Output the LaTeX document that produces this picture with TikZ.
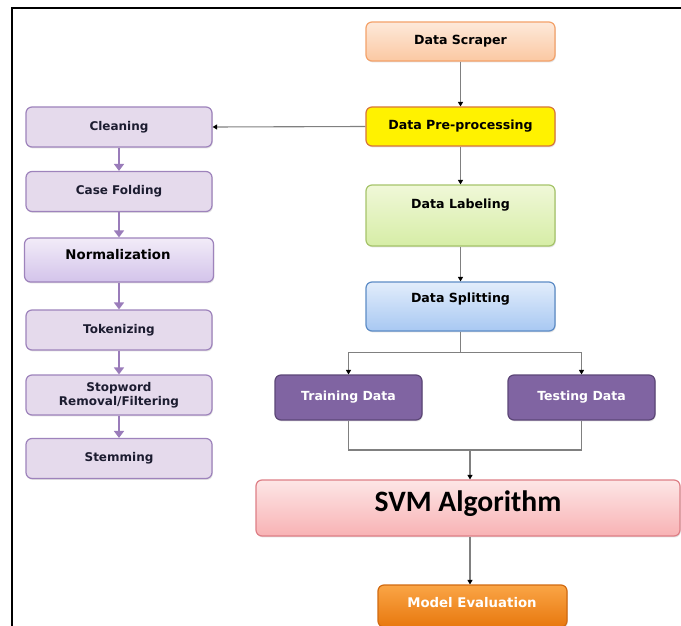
\documentclass[tikz,border=0pt]{standalone}
\usepackage{fontspec}
\setmainfont{DejaVu Sans}
\newfontfamily\calibfont{Carlito}
\usetikzlibrary{arrows.meta,shadows}

\definecolor{lfill}{HTML}{E5DAEC}
\definecolor{lborder}{HTML}{9E83BC}
\definecolor{ltext}{HTML}{1C1C30}
\definecolor{parrow}{HTML}{9A7CBA}
\definecolor{flowgrey}{HTML}{808080}
\definecolor{scrapTop}{HTML}{FDE9DA}
\definecolor{scrapBot}{HTML}{FBC8A2}
\definecolor{scrapLine}{HTML}{F4A26A}
\definecolor{preLine}{HTML}{D8763A}
\definecolor{labTop}{HTML}{F0F8D8}
\definecolor{labBot}{HTML}{D6EDA6}
\definecolor{labLine}{HTML}{A6C46A}
\definecolor{splTop}{HTML}{E2EDFB}
\definecolor{splBot}{HTML}{A8C8F2}
\definecolor{splLine}{HTML}{5D8CC6}
\definecolor{dataFill}{HTML}{8064A2}
\definecolor{dataLine}{HTML}{5C4677}
\definecolor{svmTop}{HTML}{FDE6E6}
\definecolor{svmBot}{HTML}{F8B2B4}
\definecolor{svmLine}{HTML}{DE7F86}
\definecolor{evalTop}{HTML}{FAA546}
\definecolor{evalBot}{HTML}{E8780E}
\definecolor{evalLine}{HTML}{D26A10}
\definecolor{normTop}{HTML}{F2ECF8}
\definecolor{normBot}{HTML}{D3C3EA}

\begin{document}
\begin{tikzpicture}[x=1pt,y=-1pt,
  box/.style={rounded corners=6pt, inner sep=0pt, line width=1.2pt,
    drop shadow={shadow xshift=0.8pt,shadow yshift=-1.4pt,opacity=0.22}},
  leftbox/.style={box, draw=lborder, fill=lfill, minimum width=186pt,
    minimum height=40pt, align=center, text=ltext,
    font=\bfseries\fontsize{12}{13.5}\selectfont},
  rightbox/.style={box, minimum width=189pt, align=center,
    font=\bfseries\fontsize{12.6}{15}\selectfont},
  datbox/.style={box, draw=dataLine, fill=dataFill, text=white,
    minimum width=147pt, minimum height=45pt,
    font=\bfseries\fontsize{12.5}{15}\selectfont},
  boxtext/.style={inner sep=0pt, font=\bfseries\fontsize{12.6}{15}\selectfont},
  flow/.style={draw=flowgrey, line width=1.1pt,
    -{Triangle[length=4.5pt,width=5pt,color=black]}},
  plainflow/.style={draw=flowgrey, line width=1.1pt},
  purp/.style={draw=parrow, line width=2.6pt, -{Triangle[length=7pt,width=10pt]}}
]
\useasboundingbox (0,0) rectangle (681,626);
\clip (0,0) rectangle (681,626);
\fill[white] (0,0) rectangle (681,626);

% outer frame (left and top edges)
\draw[line width=2.2pt, black] (12,700) -- (12,8) -- (700,8);

% ---- preprocessing steps (left column) ----
\node[leftbox] (clean) at (119,127) {Cleaning};
\node[leftbox] (fold) at (119,191.5) {Case Folding};
\node[box, draw=lborder, top color=normTop, bottom color=normBot,
  minimum width=189pt, minimum height=44pt] (norm) at (119,260) {};
\node[inner sep=0pt, text=black, font=\bfseries\fontsize{13.3}{15}\selectfont]
  (normtxt) at (118,255) {Normalization};
\node[leftbox] (token) at (119,330) {Tokenizing};
\node[leftbox] (stop) at (119,395) {Stopword\\Removal/Filtering};
\node[leftbox] (stem) at (119,458.5) {Stemming};

\draw[purp] (clean.south) -- (fold.north);
\draw[purp] (fold.south) -- (norm.north);
\draw[purp] (norm.south) -- (token.north);
\draw[purp] (token.south) -- (stop.north);
\draw[purp] (stop.south) -- (stem.north);

% ---- main pipeline (right column) ----
\node[rightbox, draw=scrapLine, top color=scrapTop, bottom color=scrapBot,
  minimum height=39pt] (scrap) at (460.5,41.5) {Data Scraper};
\node[rightbox, draw=preLine, fill=yellow,
  minimum height=39pt] (pre) at (460.5,126.5) {Data Pre-processing};
\node[box, draw=labLine, top color=labTop, bottom color=labBot,
  minimum width=189pt, minimum height=61pt] (label) at (460.5,215.5) {};
\node[boxtext] (labeltxt) at (460.5,205) {Data Labeling};
\node[box, draw=splLine, top color=splTop, bottom color=splBot,
  minimum width=189pt, minimum height=49pt] (split) at (460.5,306.5) {};
\node[boxtext] (splittxt) at (460.5,299) {Data Splitting};

\node[datbox] (train) at (348.5,397.5) {Training Data};
\node[datbox] (test) at (581.5,397.5) {Testing Data};

\node[box, draw=svmLine, top color=svmTop, bottom color=svmBot,
  minimum width=424pt, minimum height=56pt] (svm) at (468,508) {};
\node[inner sep=0pt, font=\calibfont\bfseries\fontsize{29.6}{32}\selectfont]
  (svmtxt) at (468,504) {SVM Algorithm};

\node[box, draw=evalLine, top color=evalTop, bottom color=evalBot,
  minimum width=189pt, minimum height=42pt] (eval) at (472.5,606) {};
\node[inner sep=0pt, text=white, font=\bfseries\fontsize{13.3}{15}\selectfont]
  (evaltxt) at (472,603) {Model Evaluation};

% connectors
\draw[flow] (scrap.south) -- (pre.north);
\draw[flow] (pre.west) -- (clean.east);
\draw[flow] (pre.south) -- (label.north);
\draw[flow] (label.south) -- (split.north);

\coordinate (fork) at ([yshift=-21pt]split.south);
\draw[plainflow] (split.south) -- (fork);
\draw[flow] (fork) -| (train.north);
\draw[flow] (fork) -| (test.north);

\coordinate (join) at (470,450);
\draw[plainflow] (train.south) |- (join);
\draw[plainflow] (test.south) |- (join);
\draw[flow] (join) -- (join |- svm.north);
\draw[flow] (svm.south -| join) -- (join |- eval.north);
\end{tikzpicture}
\end{document}
